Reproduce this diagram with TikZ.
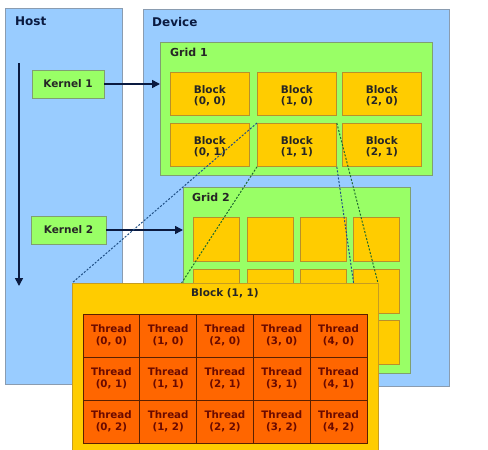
\documentclass[tikz,border=0pt]{standalone}
\usepackage{fontspec}
\setmainfont{DejaVu Sans}
\usetikzlibrary{arrows.meta}
\definecolor{hostblue}{HTML}{99CCFF}
\definecolor{hostedge}{HTML}{8A9CB0}
\definecolor{gridgreen}{HTML}{99FF66}
\definecolor{gridedge}{HTML}{80A070}
\definecolor{blockyellow}{HTML}{FFCC00}
\definecolor{blockedge}{HTML}{B8902A}
\definecolor{threadorange}{HTML}{FF6600}
\definecolor{threadedge}{HTML}{5A2000}
\definecolor{threadtext}{HTML}{6A0A00}
\definecolor{titlenavy}{HTML}{0A1A40}
\definecolor{lineblue}{HTML}{1F4F85}
\definecolor{linegreen}{HTML}{1F6A30}
\tikzset{
  area/.style={draw=hostedge, fill=hostblue, line width=0.8pt, anchor=north west, inner sep=0pt},
  gridbox/.style={draw=gridedge, fill=gridgreen, line width=0.8pt, anchor=north west, inner sep=0pt},
  kernelbox/.style={draw=gridedge, fill=gridgreen, line width=0.8pt, minimum width=72pt, minimum height=28pt, inner sep=0pt, font=\bfseries\fontsize{10.5}{12}\selectfont, text=black!85},
  blockbox/.style={draw=blockedge, fill=blockyellow, line width=0.8pt, anchor=north west, inner sep=0pt},
  blocklabel/.style={align=center, font=\bfseries\fontsize{10.5}{11.5}\selectfont, text=black!85},
  threadbox/.style={draw=threadedge, fill=threadorange, line width=0.8pt, minimum width=56.8pt, minimum height=43pt, inner sep=0pt, align=center, font=\bfseries\fontsize{10.3}{11.5}\selectfont, text=threadtext},
  title/.style={anchor=west, font=\bfseries\fontsize{12}{14}\selectfont, text=titlenavy, inner sep=0pt},
  gtitle/.style={anchor=west, font=\bfseries\fontsize{11}{13}\selectfont, text=black!85, inner sep=0pt},
  flow/.style={line width=1.6pt, draw=titlenavy, -{Triangle[length=8pt,width=8pt]}},
  persp/.style={line width=1pt, dash pattern=on 2pt off 1.6pt}
}
\begin{document}
\begin{tikzpicture}[x=1pt,y=-1pt]
\useasboundingbox (0,0) rectangle (488,450);
% Host and Device areas
\node[area, minimum width=117pt, minimum height=376pt] (host) at (5,8) {};
\node[area, minimum width=306pt, minimum height=377pt] (device) at (143,9) {};
\node[title] (hostt) at (15,21) {Host};
\node[title] (devt) at (152,22) {Device};
% time arrow
\coordinate (tstart) at (19,63);
\coordinate (tend) at (19,286);
\draw[flow] (tstart) -- (tend);
% Grid 1
\node[gridbox, minimum width=272pt, minimum height=133pt] (grid1) at (160,42) {};
\node[gtitle] (g1t) at (170,52) {Grid 1};
\foreach \c/\x in {0/170,1/257,2/342}{
  \foreach \r/\y in {0/72,1/123}{
    \node[blockbox, minimum width=79pt, minimum height=43pt] (b\c\r) at (\x,\y) {};
    \node[blocklabel] (bl\c\r) at ([yshift=-2pt]b\c\r.center) {Block\\(\c, \r)};
  }
}
% Grid 2
\node[gridbox, minimum width=227pt, minimum height=186pt] (grid2) at (183,187) {};
\node[gtitle] (g2t) at (192,197) {Grid 2};
\foreach \c/\x in {0/193,1/246.5,2/300,3/353}{
  \foreach \r/\y in {0/217,1/269,2/320}{
    \node[blockbox, minimum width=46pt, minimum height=44pt] (s\c\r) at (\x,\y) {};
  }
}
% Kernels
\node[kernelbox] (k1) at (68,84) {Kernel 1};
\node[kernelbox, minimum width=75pt] (k2) at (68.5,230) {Kernel 2};
\draw[flow] (k1.east) -- (k1.east -| grid1.west);
\draw[flow] (k2.east) -- (k2.east -| grid2.west);
% Big block
\coordinate (bbnw) at (72,283);
\coordinate (bbne) at (378,283);
\coordinate (bbsw) at (72,452);
\coordinate (bbse) at (378,452);
\draw[persp, lineblue] (b11.north west) -- (bbnw);
\draw[persp, linegreen] (b11.south west) -- (bbsw);
\draw[persp, linegreen] (b11.north east) -- (bbne);
\draw[persp, lineblue] (b11.south east) -- (bbse);
\node[blockbox, draw=blockedge!80!blockyellow, minimum width=306pt, minimum height=175pt] (big) at (72,283) {};
\node[blocklabel, font=\bfseries\fontsize{10.5}{12}\selectfont] (bigt) at (225,293) {Block (1, 1)};
\foreach \c in {0,...,4}{
  \foreach \r in {0,1,2}{
    \node[threadbox] (t\c\r) at ({83+28.4+56.8*\c},{314+21.5+43*\r}) {Thread\\(\c, \r)};
  }
}
\end{tikzpicture}
\end{document}
